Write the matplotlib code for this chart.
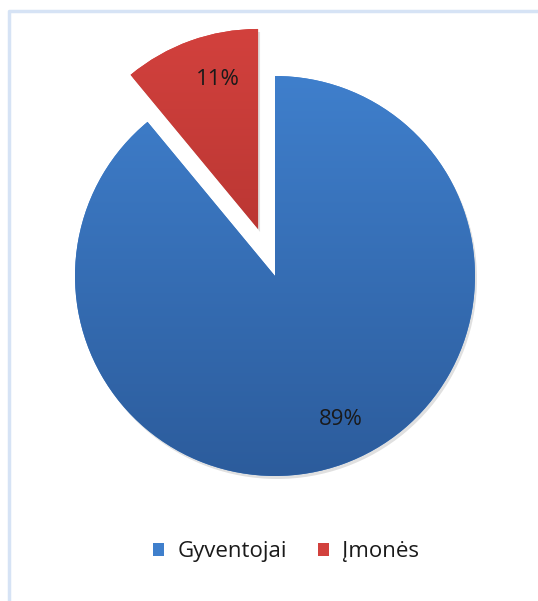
import matplotlib
matplotlib.use("Agg")
import matplotlib.pyplot as plt
import numpy as np
from matplotlib.patches import Rectangle, Wedge
from matplotlib.colors import LinearSegmentedColormap

labels = ["Gyventojai", "Įmonės"]
values = [89, 11]
explode = [0, 0.25]          # fraction of radius
top_colors = ["#3f7fcc", "#d2413d"]
bottom_colors = ["#2c5c9c", "#a52d2a"]

W, H = 538, 601
fig = plt.figure(figsize=(W / 100, H / 100), dpi=100)
ax = fig.add_axes([0, 0, 1, 1])
ax.set_xlim(0, W)
ax.set_ylim(0, H)
ax.set_aspect("equal")
ax.axis("off")

plt.rcParams["font.family"] = ["Open Sans", "DejaVu Sans"]

cx, cy, R = 275, 601 - 276, 200
wedges, texts, autotexts = ax.pie(
    values, explode=[e * R for e in explode], startangle=90, counterclock=False,
    center=(cx, cy), radius=R, autopct="%1.0f%%", pctdistance=0.78,
    textprops=dict(fontsize=16, color="#1a1a1a"),
    wedgeprops=dict(linewidth=0, edgecolor="none"),
)

for w, c1, c2 in zip(wedges, top_colors, bottom_colors):
    cmap = LinearSegmentedColormap.from_list("g", [c2, c1])
    grad = np.linspace(0, 1, 256).reshape(-1, 1)
    sh = Wedge((w.center[0] + 2, w.center[1] - 3), w.r, w.theta1, w.theta2,
               facecolor="#000000", alpha=0.12, linewidth=0, zorder=0.5)
    ax.add_patch(sh)
    im = ax.imshow(grad, extent=(w.center[0] - R, w.center[0] + R, w.center[1] - R, w.center[1] + R),
                   origin="lower", cmap=cmap, aspect="auto", zorder=1)
    im.set_clip_path(w)
    w.set_facecolor(c1)
    w.set_zorder(0.9)

for t in autotexts:
    t.set_zorder(3)
    x, y = t.get_position()
    t.set_position((x + 13, y + 3))

ax.set_xlim(0, W)
ax.set_ylim(0, H)

ax.plot([9, 9, W], [0, H - 11, H - 11], color="#d6e3f5", lw=2.5, zorder=5, solid_capstyle="butt")

handles = [Rectangle((0, 0), 1, 1, facecolor=c) for c in top_colors]
leg = ax.legend(handles, labels, loc="center", bbox_to_anchor=(286 / W, (H - 552) / H),
                ncol=2, frameon=False, fontsize=16, handlelength=0.5, handleheight=0.5,
                handletextpad=0.6, columnspacing=1.4)
for t in leg.get_texts():
    t.set_color("#1a1a1a")

fig.savefig("out.png", dpi=100)
